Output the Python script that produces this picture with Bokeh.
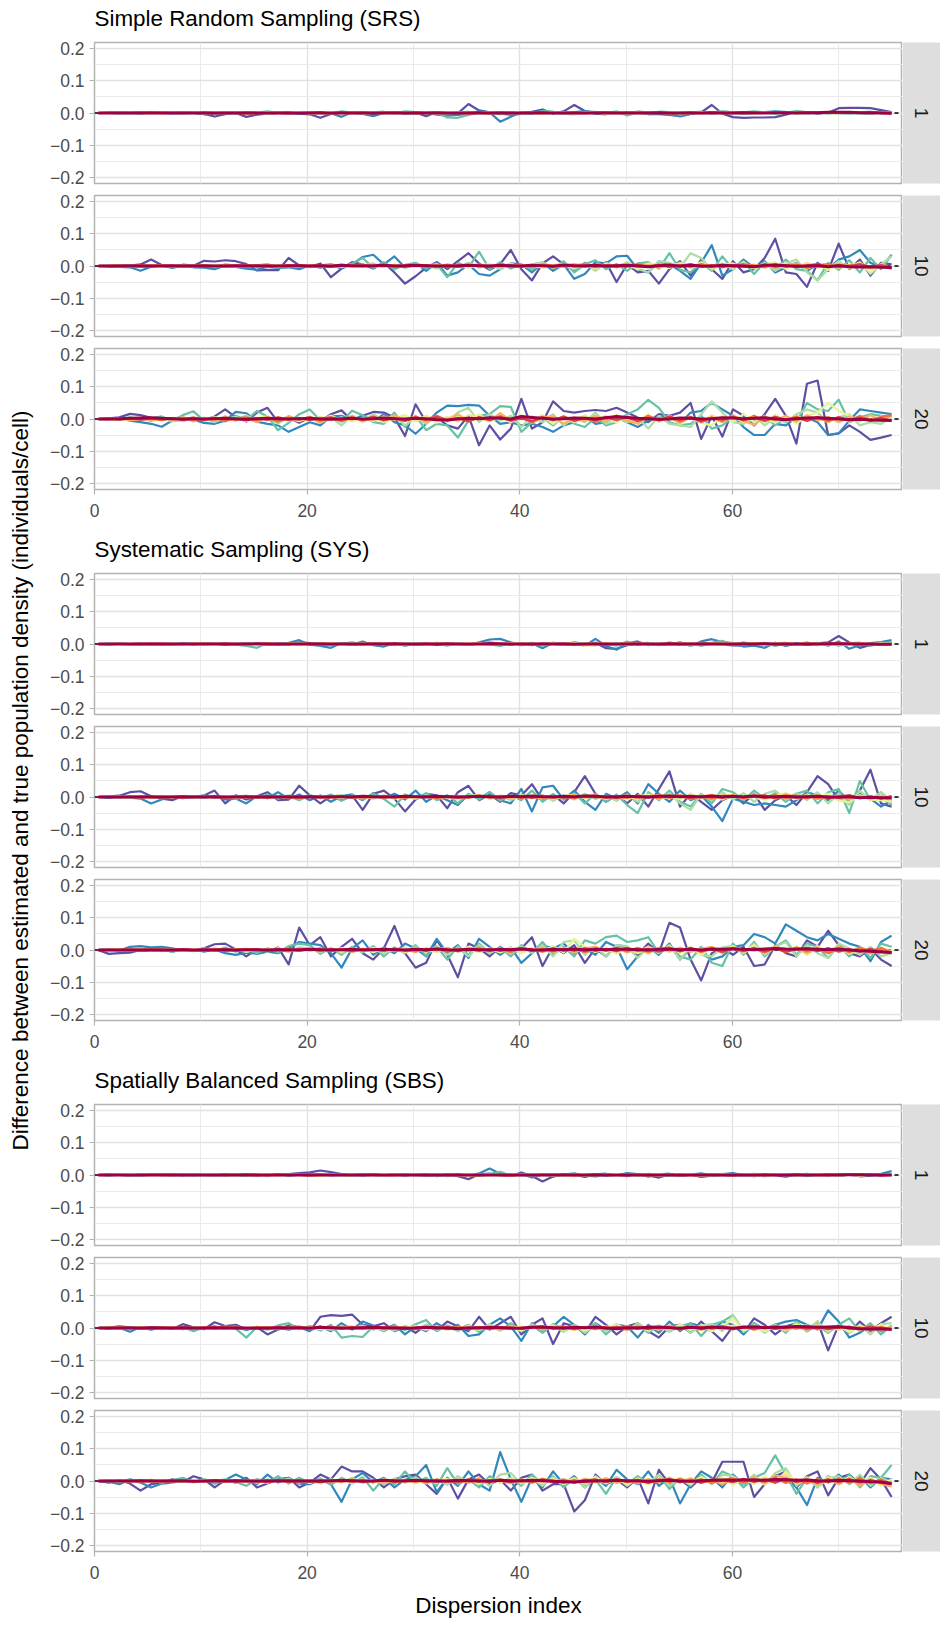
import math
from bokeh.plotting import figure
from bokeh.layouts import column, row
from bokeh.models import FixedTicker, CustomJSTickFormatter, Span, Range1d, Grid, LinearAxis
from bokeh.embed import file_html
from bokeh.resources import INLINE
from bokeh.core.properties import value

# ---------------- data (differences in thousandths of individuals/cell) ----------------
# series order in each panel: purple, blue, teal, light green, yellow, light orange,
# orange, dark orange, red, dark red  (Spectral palette)
COLORS = ["#5E4FA2", "#3288BD", "#66C2A5", "#ABDDA4", "#E6F598",
          "#FEE08B", "#FDAE61", "#F46D43", "#D53E4F", "#9E0142"]
DESIGNS = ["Simple Random Sampling (SRS)", "Systematic Sampling (SYS)",
           "Spatially Balanced Sampling (SBS)"]
SAMPLE_SIZES = ["1", "10", "20"]
X_TICKS = [0, 20, 40, 60]
X_MINOR = [10, 30, 50, 70]
Y_TICKS = [-0.2, -0.1, 0.0, 0.1, 0.2]
Y_MINOR = [-0.15, -0.05, 0.05, 0.15]
X_LIMITS = (0, 76)
Y_LIMITS = (-0.22, 0.22)
DISPERSION = [round(0.35 + 0.995 * i, 3) for i in range(80)]

SRS_1 = [
 [0,1,2,1,1,0,1,2,1,0, -3,-11,-4,0,-12,-5,-2,0,1,-2, -4,-15,-3,1,0,2,-4,0,3,-1, 2,-10,3,-5,-1,28,8,2,-2,-5, -3,4,11,-2,5,25,6,2,0,1, -2,4,1,-3,-6,-9,-3,2,25,-2, -13,-15,-14,-14,-13,-5,4,3,-2,1, 15,16,16,15,9,3],
 [0,0,1,0,-1,1,0,-1,0,1, -4,-2,0,2,-1,0,-3,1,2,-2, 1,3,-1,-12,2,-3,-10,0,3,-3, -2,2,-5,-8,-6,-3,5,2,-27,-12, 3,2,5,1,-3,3,6,-2,-4,2, -3,1,-4,-3,-4,-11,-3,3,1,5, 2,-2,1,3,5,3,2,-2,1,3, -2,0,-1,-3,2,1],
 [0,0,-1,1,0,0,1,0,-1,0, 1,2,0,-2,3,1,5,0,-3,2, -1,0,-2,5,1,-3,2,4,-2,5, 3,-1,1,-14,-15,-6,1,3,-4,2, -2,-3,6,4,-2,-4,1,3,-2,5, -8,2,-1,4,3,-5,1,4,-2,3, -1,2,5,2,-3,1,6,1,3,-2, 1,-2,2,4,-1,0],
 [0,1,0,-1,1,0,0,1,-1,0, 1,0,2,-1,1,2,-2,1,0,3, 1,-2,0,3,-1,1,2,-1,3,0, -2,1,3,-2,2,4,-1,-2,3,1, 0,2,-3,1,3,-1,2,4,-2,1, -3,0,2,1,-2,3,1,-1,2,5, 1,-2,0,3,1,4,-2,1,2,-1, 3,1,-2,2,0,1],
 [0,0,1,0,0,-1,0,1,0,0, -1,1,0,1,-1,0,2,0,-1,1, 0,-2,1,0,2,-1,0,1,-2,1, 0,2,-1,1,0,-2,1,2,0,-1, 1,0,-2,1,2,-1,0,1,-3,0, 2,1,-1,0,2,-1,1,3,0,-1, 1,2,-1,0,3,1,-1,2,1,0, -2,1,0,2,1,0],
 [0,0,0,1,0,0,-1,0,1,0, 0,1,-1,0,1,0,-1,2,0,1, -1,0,1,-1,0,2,1,-1,0,1, 2,0,-1,1,2,0,-1,1,0,2, -1,1,0,2,-1,0,3,1,-1,0, 1,-2,0,1,2,0,-1,1,0,2, 1,0,-1,2,1,0,1,-1,2,0, 1,2,0,-1,1,0],
 [0,0,1,0,0,0,1,0,0,1, 0,-1,0,1,0,1,0,-1,1,0, 1,0,0,1,-1,0,1,1,0,-1, 0,1,2,0,1,-1,0,1,2,0, 1,0,-1,1,0,2,1,0,1,-1, 0,1,0,2,1,0,1,-1,0,1, 2,1,0,1,2,1,0,2,1,0, 1,0,2,1,0,1],
 [0,0,0,0,1,0,0,0,1,0, 0,0,1,0,-1,0,0,1,0,0, 1,0,-1,0,1,0,0,1,0,1, -1,0,1,0,0,1,0,-1,0,1, 0,1,0,0,1,0,-1,1,0,0, 1,0,1,0,-1,0,1,0,1,0, 1,2,1,0,1,0,1,1,0,2, 1,0,1,2,1,0],
 [0,0,0,0,0,1,0,0,0,0, 1,0,0,0,1,0,0,0,-1,0, 0,1,0,0,0,1,0,0,1,0, 0,0,1,0,0,-1,0,0,1,0, 0,1,0,0,0,1,0,1,0,0, 1,0,0,1,0,0,1,0,0,1, 0,1,1,0,0,1,0,1,1,0, 1,1,0,1,0,-1],
 [0,0,0,0,0,0,0,0,0,0, 0,0,0,0,0,0,0,0,0,0, 0,0,0,1,0,0,0,0,0,0, 1,0,0,0,0,0,1,0,0,0, 0,0,1,0,0,0,0,0,1,0, 0,0,0,1,0,0,0,0,1,0, 0,1,0,0,1,1,0,1,1,2, 2,2,1,1,0,-1],
]

SRS_10 = [
 [0,1,3,1,5,20,3,-2,4,1, 16,14,18,15,6,-14,-12,-13,25,2, -3,8,-35,-8,12,5,-8,10,-20,-55, -32,-5,12,-10,15,40,8,-12,6,50, -10,-45,8,30,5,-15,10,-8,12,-50, 5,-20,-15,-55,-10,15,-30,20,-10,-40, 15,-20,-10,25,85,-20,-25,-65,10,-15, 70,-10,20,-30,10,5],
 [0,-1,-3,-4,-15,-2,2,-6,1,-4, -5,-10,2,-3,-8,-12,-2,-6,-4,-10, 2,-5,3,-8,5,28,35,5,30,-5, 8,-15,10,-30,-20,5,-25,-30,-10,8, 5,-20,10,-15,5,-40,-25,12,8,30, 32,-10,-20,15,5,-15,-40,10,65,-30, -10,20,-5,15,-20,-5,10,-15,5,-10, 20,30,50,10,-5,35],
 [0,1,-1,2,-2,3,1,-3,2,-1, 2,-4,5,1,-3,2,6,-5,1,3, -4,2,6,-3,8,25,-6,12,-10,4, 10,-8,5,-35,10,-5,45,-10,12,-8, 5,-12,10,-6,15,-20,5,18,-10,6, -15,8,12,-8,40,-12,-20,10,-15,30, -10,15,-25,12,-8,20,-10,-15,-45,10, -12,18,-20,25,-10,35],
 [0,0,2,-1,1,-2,3,0,-2,1, 2,-1,3,0,-2,1,4,-3,2,-1, 1,3,-2,5,-3,2,8,-4,3,-6, 5,2,-8,6,-3,10,-5,4,-10,8, -3,5,12,-6,3,-10,8,-15,10,-5, 12,-8,-20,15,10,-5,40,25,-12,8, -10,12,-6,10,-15,8,20,-20,-45,-10, 15,-8,12,-25,5,30],
 [0,1,-1,0,2,-1,1,-2,0,1, -1,2,0,-3,1,2,-1,3,-2,0, 2,-1,3,-2,1,4,-3,2,-1,3, -4,2,5,-3,1,-5,3,6,-2,4, -3,5,-6,2,4,-5,3,-8,6,-3, 5,-10,8,4,-6,10,-4,12,-5,8, -6,10,-8,5,12,-10,6,-8,4,-12, 8,-5,10,-20,6,-8],
 [0,0,1,-1,0,1,-1,2,0,-1, 1,-2,0,2,-1,1,3,-2,1,-1, 2,0,-3,1,2,-1,3,-2,4,0, -3,2,1,-4,3,-1,4,-2,2,5, -3,1,-4,3,6,-2,4,-5,3,-2, 5,-3,6,-4,2,7,-5,3,-6,4, 8,-3,5,-6,2,7,-4,10,-5,3, -6,4,8,-5,3,-8],
 [0,1,0,-1,1,0,2,-1,1,0, -2,1,2,-1,0,3,-2,1,2,-1, 0,-3,2,1,-2,3,0,-1,4,-2, 1,3,-3,2,0,5,-2,3,-4,1, 4,-2,3,-5,2,6,-3,1,-4,3, 5,-2,4,-6,3,-3,6,-4,2,5, -3,7,-2,4,-6,3,8,-5,2,-4, 6,-3,5,-8,4,-10],
 [0,0,1,0,-1,1,0,1,-1,0, 1,0,-2,1,2,-1,1,0,2,-1, 1,2,-2,0,1,3,-1,2,-2,1, 3,-2,1,2,-3,2,4,-1,3,-2, 2,-3,4,1,-2,3,5,-2,3,-4, 2,4,-3,5,-2,3,-4,6,-2,4, -3,5,2,-4,6,-3,4,-5,3,6, -4,2,5,-3,4,-6],
 [0,0,0,1,0,-1,1,0,0,1, -1,0,1,0,2,-1,1,0,-1,2, 0,1,-2,1,0,2,-1,3,0,-2, 1,2,-1,3,-2,1,2,-3,2,1, -2,3,1,-2,4,-1,2,-3,3,1, -2,4,-1,3,-3,2,5,-2,3,-4, 2,4,-3,5,-2,3,-4,2,6,-3, 4,-2,5,-3,2,-5],
 [0,0,0,0,1,0,0,1,0,0, 1,0,0,1,0,1,0,0,1,1, 0,1,0,2,1,0,1,2,0,1, 2,1,0,-1,1,2,1,0,2,1, 0,2,1,-1,3,1,0,2,-1,1, 2,0,-2,1,3,-1,2,0,-1,2, 1,-1,-2,2,3,1,-1,0,1,-2, 1,-2,-3,-2,-4,-5],
]

SRS_20 = [
 [0,2,5,16,12,4,-2,3,-5,2, -3,8,30,6,-8,20,35,-10,4,-12, 5,-8,15,27,-5,10,22,20,5,-53, 46,-10,5,-20,-30,10,-82,-20,-64,-30, 63,-30,-10,55,25,20,25,28,25,35, 20,5,-10,15,10,20,50,-62,10,-55, 30,10,-20,15,63,10,-77,110,120,-50, -45,-20,-40,-65,-58,-50],
 [0,-2,3,-5,-10,-15,-24,-5,-3,-2, -12,-15,-5,22,18,-8,-15,-20,-40,-25, -10,-20,8,10,-5,12,-8,15,-10,-20, -46,-15,20,42,40,44,42,10,-15,-10, -20,-15,-25,-40,-20,-10,10,-15,-10,5, -10,-25,-5,5,10,-15,20,25,50,30, 10,-25,-50,-50,-15,-20,5,5,-10,-50, -45,-5,30,25,20,15],
 [0,3,-2,5,-3,2,8,-5,12,24, -5,3,-8,10,-3,25,8,-35,-12,15, 30,-5,10,-8,26,12,-10,-15,20,-25, 10,-35,-15,-20,-58,-5,10,15,40,38, -40,-10,5,-20,10,-15,-25,5,-20,-10, 15,30,60,35,-10,-20,-15,10,-30,-20, 5,-10,-5,10,-20,5,-10,50,30,25, 60,-10,5,15,10,5],
 [0,-2,1,-4,3,-6,2,-8,5,-3, 4,-10,8,-5,12,-8,6,-15,10,-5, 8,-12,6,-20,10,-8,15,-5,12,-20, 5,-15,10,-8,20,35,-10,15,-5,10, -25,8,-10,15,-20,5,-10,20,-15,8, -10,5,-30,10,-15,-20,-25,15,55,20, -10,-15,10,-20,5,-12,15,30,20,-10, 5,15,-20,-10,-15,5],
 [0,2,-1,3,-2,4,-3,2,-5,3, -4,6,-2,5,-6,3,8,-4,2,-7, 5,-3,10,-5,4,-8,6,-10,3,12, -5,8,-12,6,10,-5,15,-8,5,-10, 12,-6,8,-15,10,-5,12,-8,6,-12, 10,-5,15,-10,8,-15,5,-12,-20,10, -8,15,-10,5,-12,8,-15,10,20,50, 25,10,-8,12,-5,8],
 [0,-1,2,-3,1,3,-2,4,-3,2, -4,5,-2,3,-6,4,-3,6,-5,2, -4,7,-3,5,-8,4,-6,8,-3,5, -7,10,-4,6,-8,12,5,-6,8,-10, 6,-5,12,-8,4,-10,8,-6,10,-4, 7,-12,5,-8,10,-6,8,-10,12,-5, 8,-10,6,-8,12,-6,10,-4,8,-10, 6,-8,10,-5,8,-6],
 [0,-2,3,-4,2,-5,4,-3,6,-8, 4,-6,8,-4,3,-10,6,-5,8,-3, 5,-12,4,-6,10,-8,3,-5,12,-4, 8,-10,6,-3,15,-8,5,-6,18,-5, 10,-12,5,8,-15,4,-6,10,-8,12, -5,-15,8,-4,10,-12,6,-8,5,-10, 12,-6,-18,8,-5,10,-8,12,-4,6, -10,8,-5,12,-6,10],
 [0,1,-2,3,-1,2,-4,3,-2,5, -3,4,-6,2,5,-4,3,-8,4,-2, 6,-5,3,-7,5,-3,8,-4,2,-6, 7,-3,10,-5,4,-8,6,-3,9,-6, 4,-10,7,-4,8,-6,3,-9,5,-4, 8,-7,10,-5,3,-8,6,-10,4,-6, 8,-4,10,-7,5,-3,8,-6,4,-8, 6,-5,9,-4,6,12],
 [0,1,-1,2,-2,3,-1,2,-3,1, -2,4,-1,3,-4,2,-3,5,-2,3, -4,2,5,-3,4,-2,6,-4,3,-5, 4,-2,6,-4,3,-7,5,-3,6,-4, 2,-6,5,-3,7,-5,3,-4,6,-2, 5,-6,3,-4,8,-3,5,-6,4,-2, 6,-4,3,-5,7,-3,4,-5,6,-3, 5,-2,4,-6,3,-5],
 [0,0,1,2,3,4,2,1,0,1, 0,1,2,0,-1,1,2,1,0,1, 2,0,-1,1,2,0,1,3,1,0, 2,1,-2,-3,0,2,1,4,2,0, 8,5,2,0,1,3,2,0,4,8, 5,2,1,-1,0,3,2,0,1,4, 3,1,2,4,0,-2,1,3,4,2, 0,-2,-1,-3,-4,-5],
]

SYS_1 = [
 [0,0,1,0,1,0,-1,0,1,0, 0,1,-1,0,2,-1,0,1,-2,5, 3,-1,0,2,-3,1,0,2,-2,1, 0,1,-3,2,0,-1,2,4,1,-2, 3,-4,2,1,-3,2,0,4,-13,-15, -4,2,3,-2,-1,2,-1,2,3,-1, -4,-5,2,3,-2,-3,1,-2,2,5, 25,5,-12,-3,1,3],
 [0,-1,1,0,-2,1,0,-1,2,-1, 1,0,-2,1,-3,2,-1,0,4,12, -2,-6,-12,3,-2,8,-4,-8,3,-5, 2,-3,4,-1,3,-2,5,14,16,5, -4,2,-13,4,-2,3,-6,16,-6,-18, 2,8,-4,3,-2,5,-6,8,15,6, 3,-8,-5,-12,4,-6,2,-3,4,-5, 8,-15,-4,3,6,12],
 [0,1,0,-1,1,-2,0,1,-1,2, -1,0,1,-2,-6,-12,3,-2,1,4, -1,2,-3,1,5,-2,0,3,-4,2, 1,-3,2,-5,3,-2,4,-1,-6,3, -2,4,-5,2,-3,6,-2,-4,3,-5, 8,-3,2,-4,5,-2,3,-6,4,10, -3,5,-2,4,-6,2,-3,5,-4,3, -5,2,4,-6,3,5],
 [0,0,1,-1,0,1,-1,0,1,0, -1,1,0,-2,1,0,2,-1,1,-2, 0,2,-1,1,-2,2,0,-1,2,-3, 1,0,2,-2,1,-3,2,0,-1,3, -2,1,-3,2,0,-4,3,1,-2,2, -3,1,4,-2,0,3,-5,2,1,-3, 4,-1,2,-3,1,4,-2,0,3,-2, 1,-3,2,-1,4,0],
 [0,0,0,1,-1,0,1,0,-1,0, 1,-1,0,1,0,-2,1,0,-1,1, 0,-1,2,0,-1,1,0,2,-1,0, 1,-2,0,1,2,-1,0,-2,1,0, 2,-1,0,1,-3,0,-6,-2,1,-1, 2,0,-1,3,-2,1,0,-1,2,-2, 1,0,3,-1,-2,1,0,2,-1,1, -2,3,0,-1,1,0],
 [0,0,1,0,0,-1,0,1,0,0, -1,0,1,0,-1,1,0,0,1,-1, 0,1,0,-1,1,0,-1,1,0,2, -1,0,1,-1,0,1,2,0,-1,1, 0,-2,1,0,-1,2,-2,0,1,-1, 0,2,-1,0,1,-2,0,1,-1,2, 0,-1,1,0,2,-1,0,1,-2,0, 1,-1,2,0,-1,1],
 [0,0,0,0,1,0,0,-1,0,1, 0,0,1,0,-1,0,1,0,0,1, -1,0,1,0,0,-1,1,0,1,0, -1,0,1,0,-1,0,1,0,-1,1, 0,1,-1,0,1,0,-2,0,1,0, -1,1,0,-1,1,0,2,-1,0,1, 0,-1,1,0,-1,1,0,2,0,-1, 1,0,-1,1,0,-2],
 [0,0,0,0,0,1,0,0,0,0, 1,0,0,-1,0,0,1,0,0,0, 1,0,0,0,-1,0,0,1,0,0, 0,1,0,0,0,-1,0,0,1,0, 0,0,1,0,-1,0,0,1,0,0, 1,0,0,-1,0,1,0,0,1,0, -1,0,1,0,0,1,0,-1,0,1, 0,0,1,0,-1,0],
 [0,0,0,0,0,0,1,0,0,0, 0,0,1,0,0,0,0,-1,0,0, 0,1,0,0,0,0,1,0,0,0, -1,0,0,1,0,0,0,0,1,0, 0,-1,0,0,1,0,0,0,-1,0, 0,1,0,0,0,-1,0,1,0,0, 0,1,0,0,-1,0,0,1,0,0, 1,0,0,-1,0,0],
 [0,0,0,0,0,0,0,0,0,0, 0,0,0,0,0,1,0,0,0,0, 0,0,0,0,0,0,0,0,1,0, 0,0,0,0,0,0,0,1,0,0, 0,0,0,0,0,-1,0,0,0,0, 0,0,0,0,1,0,0,0,0,0, 0,0,0,1,0,0,0,0,0,1, 1,1,0,0,-1,-1],
]

SYS_10 = [
 [0,2,4,15,18,2,-5,-10,3,-2, 5,20,-20,5,-8,2,15,-10,-8,35, 5,-20,3,-10,5,-40,10,20,-5,-45, -8,10,5,-35,15,35,-10,8,-15,12, 5,40,-10,8,-20,15,65,10,-15,5, -20,10,-30,25,80,-30,10,-15,-40,-10, 5,-20,10,-40,-10,5,-25,15,65,40, -10,-15,20,85,-20,-30],
 [0,-3,1,-2,-5,-20,-8,2,-4,1, -3,4,-8,-5,-20,3,-4,15,-6,8, -10,5,-15,3,8,-10,12,-5,10,-8, 20,-15,5,-10,-25,8,-5,15,-10,-20, 25,-45,30,35,-8,20,-15,-40,10,-5, 15,-20,40,10,-15,20,-10,5,-30,-75, -5,-15,-25,-20,-25,-30,-10,15,5,-10, 20,-15,10,-5,-30,-10],
 [0,1,-2,3,-1,2,-4,1,3,-2, 5,-3,2,-6,4,-2,8,-5,3,-10, 6,-4,8,-12,5,-8,10,-6,-30,8, -5,12,-10,6,-20,10,-8,15,-12,6, -10,20,-15,8,-6,12,-20,10,-15,8, -25,-50,15,-10,20,-15,-30,10,-20,25, 15,-10,20,-5,12,-15,10,20,-20,15, 25,-50,50,-10,15,-25],
 [0,0,1,-1,2,-1,0,2,-2,1, -1,3,-2,1,4,-3,2,-1,5,-2, 3,-4,2,6,-3,1,-5,4,-2,3, -6,5,-3,2,-8,4,6,-5,3,-10, 8,-4,6,-12,5,-8,10,-6,4,-12, 8,-15,10,-5,12,-20,-40,8,-10,15, -8,12,-15,10,20,-8,12,-10,15,-20, 10,-25,20,-10,15,-12],
 [0,1,0,-1,1,-2,1,0,2,-1, 0,2,-3,1,-1,3,-2,1,2,-4, 3,-1,2,-3,4,-2,1,3,-5,2, -3,4,-1,2,-6,3,5,-2,4,-3, 6,-4,2,-5,3,7,-3,5,-6,2, -8,4,6,-5,3,-7,10,-4,5,-8, 6,-3,8,-10,4,12,-6,8,-5,10, -12,-15,6,-8,-10,-15],
 [0,0,1,0,-1,1,0,-1,2,0, -1,1,2,-2,0,1,-1,3,-1,0, 2,-2,1,3,-1,0,2,-3,1,4, -2,1,3,-2,4,-1,2,-3,5,0, -2,4,1,-3,3,5,-2,1,-4,3, 2,-5,4,1,-3,6,-2,3,-5,4, 7,-3,2,-6,4,8,-2,5,-4,3, -6,5,2,-8,4,-10],
 [0,1,-1,0,2,-1,1,0,-2,1, 2,-1,0,3,-2,1,-1,2,0,-3, 1,2,-2,0,3,-1,-2,4,1,-2, 3,0,-4,2,3,-1,5,-2,1,-3, 4,2,-5,3,-1,6,-2,4,-3,2, 5,-4,3,6,-2,4,-5,2,7,-3, 5,-6,3,4,-5,8,2,-4,6,-3, 5,-8,4,-6,3,-5],
 [0,0,0,1,-1,0,1,0,-1,1, 0,2,-1,0,1,-2,1,2,-1,0, 2,-1,1,3,-2,0,2,-1,3,-2, 1,2,-3,2,1,-2,4,-1,2,3, -3,1,4,-2,2,-4,3,5,-2,1, -3,4,2,-4,3,5,-3,2,-5,4, 3,-2,5,-3,6,-4,2,4,-5,3, -2,5,-4,2,-6,3],
 [0,0,0,0,1,0,-1,0,1,0, 1,0,-1,1,0,2,-1,0,1,-1, 2,0,-1,1,2,-1,0,2,-2,1, 0,3,-1,1,-2,2,0,3,-2,1, 2,-3,1,3,-2,0,4,-1,2,-3, 1,3,-2,4,-1,2,-4,3,1,-3, 4,-2,3,5,-3,1,4,-2,3,-4, 2,5,-3,1,-4,2],
 [0,0,0,0,0,1,0,0,1,0, 0,1,0,0,1,0,1,0,1,0, 1,0,1,1,0,2,1,0,1,2, 1,0,2,1,0,1,2,1,0,2, 1,3,1,0,2,1,3,2,0,1, 2,1,0,2,3,1,2,0,3,1, 2,1,3,0,1,2,-1,1,2,0, -1,1,-2,-1,-2,-3],
]

SYS_20 = [
 [0,-12,-10,-8,0,-3,2,-5,3,-2, 5,18,20,2,-20,3,-5,8,-45,70, 15,40,-20,10,35,-10,-30,5,75,-10, -55,-40,30,-15,-85,20,5,-20,10,-15, 5,40,-50,10,-10,15,-40,5,-20,15, 10,-15,20,-10,85,70,-30,-95,-10,5, -15,10,-50,-45,15,-10,-20,30,10,60, 15,-10,-20,5,-30,-50],
 [0,3,-2,10,12,8,10,5,-2,3, -5,2,-10,-15,-8,-12,-5,-10,5,25, 20,15,-10,-55,5,30,-15,8,-10,20, 5,-20,35,-10,15,-25,35,10,-15,8, -40,-10,15,5,20,-10,5,-15,25,10, -60,-20,10,-15,20,-30,5,-10,-30,-20, 10,15,50,40,20,80,60,40,30,50, 35,20,10,-35,25,45],
 [0,2,-3,1,5,-2,4,-6,3,-4, 6,-3,8,-5,2,-10,5,-8,12,20, 15,-12,6,-15,10,-8,12,-20,8,-10, 15,-18,10,-30,12,-15,20,-10,8,-20, 15,-10,25,-15,10,-20,30,20,40,45, 25,30,40,-10,15,-20,-30,10,-40,-50, 20,-15,25,-20,10,30,-15,20,10,-25, 15,-20,10,-25,20,10],
 [0,-1,2,-3,1,-2,3,-4,2,1, -3,5,-2,4,-6,3,-5,6,-4,8, 5,-8,6,-10,4,-6,8,-12,5,-8, 10,-6,12,-15,8,-20,15,-10,6,-12, 10,-8,15,-20,25,30,-15,10,-20,15, 12,-25,8,-10,15,-30,10,-15,-20,8, 12,-10,20,-15,10,25,-20,15,-10,-25, 20,5,-15,10,-20,-10],
 [0,1,-2,2,-1,3,-2,1,-3,2, -1,4,-3,2,-5,3,-2,4,-6,3, -4,5,-2,6,-5,3,-7,4,-3,8, -5,3,-8,6,-4,10,-6,4,-8,5, -10,6,-4,12,-8,35,10,-6,8,-12, 6,-10,8,-5,12,-8,10,-15,6,-10, 12,-8,15,-10,8,-6,12,-15,10,-5, 8,-12,6,-10,8,-12],
 [0,0,1,-1,2,-2,1,0,-2,3, -1,2,-3,1,4,-2,3,-1,-4,2, 5,-3,1,-5,4,-2,6,-3,2,-6, 4,-5,3,7,-4,2,-6,5,-3,8, -5,4,-7,3,6,-4,8,-5,3,-9, 5,-6,10,-4,7,-8,5,-10,6,-4, 8,-7,5,-9,10,-5,6,-8,12,-6, 4,-10,8,-5,6,-8],
 [0,1,-1,2,-2,1,3,-2,1,-3, 2,-1,4,-3,2,-4,3,1,-5,4, -2,5,-3,2,-6,4,-1,5,-4,3, -6,5,-2,6,-5,3,8,-4,2,-7, 6,-3,8,-6,4,-8,5,10,-4,6, -8,4,-10,7,-5,8,-6,4,10,-8, 5,-6,8,-4,12,-7,5,-10,6,-8, 10,-5,7,-12,6,-4],
 [0,0,1,-1,1,0,-2,1,2,-1, 0,2,-2,1,3,-1,-2,3,1,-3, 2,4,-2,1,-4,3,2,-3,5,-1, -4,3,2,-5,4,-2,5,-3,3,-6, 4,2,-5,6,-3,4,-7,5,-2,6, -4,7,-5,3,8,-4,6,-6,4,-8, 7,-3,5,-8,6,-5,8,-4,6,-10, 5,-7,8,-4,6,-10],
 [0,0,0,1,-1,0,1,-1,2,0, -1,1,2,-1,0,2,-2,1,3,-1, 2,-2,3,0,-3,2,1,-2,4,-1, 2,-3,4,1,-3,3,-2,4,-3,2, 5,-3,2,-4,4,-2,5,-3,3,-4, 6,-2,4,-5,3,-4,6,-3,5,-5, 4,-3,6,-4,5,-6,3,5,-4,6, -5,3,-6,4,-5,-8],
 [0,0,0,0,0,1,0,0,1,0, 1,0,1,0,1,1,0,1,0,1, 2,1,0,1,2,0,1,2,1,0, 2,1,3,1,0,2,1,0,2,1, 3,1,0,2,1,3,0,2,1,3, 2,1,0,2,3,1,2,0,3,2, 4,2,1,3,5,3,2,4,2,1, 3,0,-2,-4,-6,-8],
]

SBS_1 = [
 [0,1,0,-1,1,0,1,0,-1,1, 0,-1,1,0,2,-2,1,0,3,6, 8,14,9,3,-1,2,0,-2,3,-1, 1,-3,-2,1,-4,-13,2,4,-1,-3, 8,-3,-20,-5,3,1,-6,2,-2,0, -4,3,-1,-8,2,-3,1,-6,-2,0, -3,1,-4,2,-1,-5,1,-3,0,2, -2,1,-4,-2,1,0],
 [0,-1,1,0,-2,1,0,-1,2,0, -1,1,-2,0,1,2,-1,3,-2,1, 0,2,-1,1,-3,2,0,-2,1,3, -1,2,-4,1,3,-3,5,20,4,-2, 3,-8,2,-4,1,5,-3,2,4,-2, 6,3,-5,2,4,-3,1,5,-2,3, 6,-1,2,-4,3,1,-2,4,-1,2, -3,1,3,-2,4,12],
 [0,1,0,-1,0,2,-1,1,0,-2, 1,0,2,-1,-3,1,0,2,-1,1, -2,3,0,-1,2,-3,1,0,2,-2, 3,-1,1,-4,2,0,-3,4,10,-2, 2,-3,1,3,-2,4,-1,-5,2,-3, 3,-2,4,-1,-3,2,0,3,-4,1, 2,-3,4,-1,2,-2,3,-4,1,2, -1,3,-2,1,-3,2],
 [0,0,1,0,-1,0,1,-1,0,1, 0,-1,1,2,-1,0,1,-2,1,0, 2,-1,0,1,-2,1,3,-1,0,2, -1,1,-2,2,0,-3,1,2,-1,3, -2,1,0,-3,2,1,-2,3,0,-1, 2,-2,1,3,-1,0,2,-3,1,0, 3,-1,2,-2,1,0,-3,2,1,-1, 2,0,-2,1,3,-1],
 [0,0,0,1,0,-1,0,1,0,0, -1,1,0,-1,1,0,2,-1,0,1, -1,0,2,0,-1,1,0,-2,1,0, 2,-1,0,1,-1,2,0,-1,1,-2, 0,1,2,-1,0,-2,1,0,2,-1, 1,0,-1,2,0,-2,1,0,-1,2, 0,1,-2,0,1,2,-1,0,1,-1, 0,2,-1,1,0,-2],
 [0,0,1,0,0,0,-1,0,1,0, 0,1,-1,0,0,1,0,-1,1,0, 0,-1,1,0,1,0,-1,0,1,0, -1,1,0,2,0,-1,0,1,-1,0, 2,0,-1,1,0,-1,2,0,1,-1, 0,1,0,-2,1,0,1,-1,0,2, -1,0,1,0,-1,2,0,1,-1,0, 1,0,-1,2,0,1],
 [0,0,0,0,1,0,0,-1,0,0, 1,0,0,1,0,-1,0,0,1,0, -1,0,1,0,0,1,0,-1,0,1, 0,0,1,-1,0,0,1,0,0,-1, 1,0,0,1,0,-1,0,1,0,0, -1,1,0,0,1,0,-1,0,1,0, 0,1,0,-1,0,1,0,0,1,0, -1,0,1,0,0,1],
 [0,0,0,0,0,0,1,0,0,0, 0,0,1,0,0,0,-1,0,0,0, 1,0,0,0,0,1,0,0,-1,0, 0,1,0,0,0,0,-1,0,1,0, 0,0,1,0,0,-1,0,0,1,0, 0,0,-1,0,1,0,0,0,1,0, -1,0,0,1,0,0,1,0,0,-1, 0,1,0,0,1,0],
 [0,0,0,0,0,0,0,1,0,0, 0,0,0,0,1,0,0,0,0,0, -1,0,0,0,0,0,1,0,0,0, 0,0,0,1,0,0,0,0,0,-1, 0,0,0,0,1,0,0,0,0,0, 1,0,0,0,0,-1,0,0,0,0, 1,0,0,0,0,0,1,0,0,0, 0,1,0,0,-1,0],
 [0,0,0,0,0,0,0,0,0,0, 0,0,0,0,0,0,0,0,0,0, 0,0,0,0,0,0,0,0,0,0, 0,0,0,0,0,0,0,0,0,0, 0,0,0,0,0,0,0,1,0,0, 0,0,0,0,0,0,0,0,0,0, 0,0,0,0,0,0,0,0,0,0, 1,1,1,1,0,0],
]

SBS_10 = [
 [0,1,5,2,-2,3,1,-3,12,2, -4,18,6,10,-5,3,-20,-5,8,3, -10,35,40,38,42,10,5,15,-10,5, -15,10,-8,20,5,-10,35,-5,15,35, -20,10,30,-50,15,5,-15,35,10,-20, 5,15,-10,-30,5,10,-15,20,-10,-40, 5,-15,30,10,-20,5,15,-10,20,-70, 10,-15,20,-10,15,35],
 [0,-2,1,-12,3,-5,2,0,-4,3, -2,5,-3,2,-6,4,-2,1,-5,3, -8,5,-10,15,-5,20,8,-5,10,-20, 5,-10,15,-5,10,-25,-20,10,30,5, -40,15,-10,5,35,10,-20,15,-5,10, 5,-30,10,-15,20,-10,15,5,-10,20, 10,-20,15,-5,10,20,25,10,-5,55, 20,-30,-15,10,-10,5],
 [0,1,-2,3,-1,2,-4,1,3,-10, 2,-3,5,-2,-30,3,-5,8,15,-4, 6,-8,10,-30,-25,-28,5,-10,8,-6, 12,25,-10,8,-5,10,-12,5,-8,15, -10,8,-15,12,-5,10,-8,15,-20,10, -5,12,-15,8,-10,5,15,-25,10,20, 40,-10,15,-8,12,-15,20,-10,8,-15, 10,30,-10,15,-20,8],
 [0,0,1,-1,2,-2,1,-1,3,-2, 1,-3,2,4,-2,3,-5,2,-3,6, -4,3,-6,5,-2,8,-5,3,-8,6, -4,10,-6,4,-10,8,-5,12,-8,6, -10,12,-6,8,-12,10,-15,8,-10,12, -8,15,-10,6,-12,10,-15,8,12,-10, 40,-12,10,-15,8,-10,15,-8,20,-12, 10,-15,8,-20,12,15],
 [0,1,-1,0,2,-1,0,2,-2,1, -1,3,-2,1,-3,2,0,-4,3,-1, 2,-4,3,-2,5,-3,1,-5,4,-2, 6,-3,2,-6,4,-1,-5,6,-3,2, -7,4,-2,8,-5,3,-8,6,-4,10, -6,3,-8,7,-4,10,-5,8,-10,6, 30,-8,5,-10,8,-6,12,-4,10,-8, 6,-12,8,-5,10,-8],
 [0,0,1,-1,0,1,-1,2,-1,0, 1,-2,2,0,-1,3,-2,1,0,-3, 2,1,-3,2,4,-2,1,-4,3,-1, 2,-5,3,1,-4,5,-2,3,-5,2, 4,-3,6,-2,3,-6,4,-1,5,-4, 6,-3,2,-5,7,-3,4,-6,5,-2, 8,-4,6,-3,5,-7,4,8,-5,3, -6,5,-4,7,-3,2],
 [0,1,0,-1,1,-1,2,0,-2,1, 0,2,-1,1,-3,2,0,3,-2,1, -2,3,-1,2,4,-3,1,-2,3,0, -4,2,5,-3,1,-4,3,2,-5,4, -2,3,6,-4,2,-5,3,7,-3,1, -6,4,2,-5,8,-3,5,-6,3,4, -5,7,-4,2,6,-5,3,-6,8,-4, 5,2,-6,4,-8,5],
 [0,0,1,0,-1,1,0,1,-1,0, 2,-1,1,0,-2,1,2,-1,0,2, -2,1,3,-1,2,-2,0,3,-1,2, -3,1,2,-3,4,-1,2,-4,3,1, -3,4,-2,3,5,-3,2,-4,3,-2, 5,-3,4,-1,3,-5,2,4,-3,5, -2,3,-5,4,-3,6,-2,5,-4,3, 6,-3,2,-5,4,-6],
 [0,0,0,1,0,-1,1,0,1,-1, 0,1,2,-1,0,1,-2,1,2,0, -1,2,0,-2,3,1,-1,2,0,-3, 2,1,-2,3,0,-1,3,-2,2,1, -3,2,4,-1,2,-3,1,3,-2,4, -1,2,-4,3,1,-2,4,-3,2,5, -2,3,-1,4,-3,2,5,-2,3,-4, 2,4,-3,5,-2,-6],
 [0,0,0,0,0,1,0,0,1,0, 0,1,0,1,0,-1,0,1,0,1, 0,2,1,0,-1,1,2,0,1,-1, 0,2,1,0,-2,1,0,2,1,-1, 0,2,3,1,-1,2,1,3,0,-2, 1,0,2,3,1,-1,2,0,3,1, -1,2,4,1,3,2,5,4,2,3, 4,1,-2,-3,-2,-4],
]

SBS_20 = [
 [0,-5,3,-8,-30,-10,-5,5,-3,15, 5,-20,3,-5,10,-20,-8,5,10,-20, -5,20,5,45,30,30,10,-20,5,15, 20,-10,-40,10,-55,5,20,-10,5,-30, 10,20,-30,-10,-10,-95,-60,20,-10,5, -20,10,-70,35,-10,5,-20,10,-5,60, 60,60,-50,-10,15,30,-20,15,30,-45, 10,20,-10,40,5,-50],
 [0,-2,-10,5,-5,-20,-8,-5,2,-3, 5,-8,3,20,5,-10,20,-5,10,-8, -10,5,-10,-65,5,25,-5,10,-20,5, 15,50,-35,10,-15,30,-10,-30,90,5, -65,10,-20,30,-10,15,-20,10,-15,35, 5,-10,30,-15,10,-70,-10,30,10,-20, 20,-10,15,-10,20,5,-20,-75,10,-5, 20,-10,15,-20,10,5],
 [0,2,-3,5,-2,4,-6,3,10,-4, 6,-8,5,-3,-15,6,-5,15,-8,10, -6,8,-12,10,-8,12,-30,8,-10,30, -5,10,-15,40,-10,5,-20,15,-5,10, -15,20,-10,15,-20,10,-15,5,-40,12, -10,15,-8,20,-25,10,-15,20,-10,30, 15,-20,10,25,80,20,-40,10,-20,15, -10,20,-20,15,10,50],
 [0,-1,2,-3,4,-2,3,-5,2,-4, 5,-3,6,-4,3,-6,5,-2,8,-5, 3,-8,6,-4,10,-6,4,-10,8,-5, 12,-8,5,-12,15,-6,10,-15,20,25, -10,8,-15,12,-6,10,-20,15,-8,12, -15,10,-6,20,-15,8,-12,15,-10,20, 15,-8,20,-12,25,40,-15,12,-20,8, 15,-10,20,-15,10,-5],
 [0,1,-1,2,-3,1,-2,3,-1,2, -4,3,-2,4,-3,2,-5,4,-2,3, -6,4,-3,5,-7,3,-4,6,-3,5, -8,4,-6,7,-4,5,-9,6,-4,8, -6,10,-5,7,-10,6,-8,12,-6,8, -10,7,-12,8,-5,10,-8,12,-6,10, -12,8,-10,15,-8,30,-6,10,-12,8, -10,12,-8,10,-15,6],
 [0,0,1,-1,2,-1,0,2,-2,1, -1,3,-2,0,2,-3,1,3,-2,4, -1,2,-4,3,-2,5,-3,1,4,-4, 2,-5,3,5,-3,2,-6,4,-2,6, -4,3,-7,5,-3,8,-5,2,-6,7, -4,6,-8,3,7,-5,10,-6,4,-8, 12,-5,8,-10,6,20,-8,5,-10,12, -6,8,-12,5,-8,-15],
 [0,1,-1,0,2,-2,1,-1,3,-2, 1,2,-3,1,-2,4,-1,2,-4,3, 1,-3,4,-2,5,-3,2,-5,4,-1, 3,-6,5,-2,4,-5,6,-3,2,-7, 5,-4,8,-3,6,-5,7,-4,9,-6, 4,-8,6,-5,10,-4,8,-6,5,-10, 8,-5,12,-7,18,10,-6,8,-12,6, -10,8,-15,6,-8,-18],
 [0,0,1,-1,1,0,-2,1,2,-1, 0,2,-2,3,-1,1,-3,2,1,-2, 3,-1,2,-3,4,-2,1,3,-4,2, -3,4,-1,3,-5,2,4,-3,5,-2, 3,-5,4,2,-6,3,-4,5,-3,6, -4,3,-6,5,-4,7,-3,5,-6,4, 8,-5,6,-4,10,-6,5,-8,6,-4, 7,-5,8,-6,5,-10],
 [0,0,0,1,-1,1,0,-1,2,0, -1,1,2,-2,1,0,-2,3,-1,2, 0,-3,2,1,-2,3,-1,4,-2,1, 3,-2,4,-1,-3,5,-2,3,1,-4, 4,-2,5,-3,2,-5,3,4,-3,5, -2,4,-5,3,6,-4,2,-5,4,3, -4,6,-3,5,-5,7,-3,4,-6,5, -4,6,-5,3,-6,-10],
 [0,0,0,0,1,0,0,1,0,-1, 0,1,0,1,0,-1,1,0,1,0, -1,1,0,2,1,-1,0,2,1,0, 2,1,-1,0,2,1,0,-1,2,1, 0,2,1,-1,-2,-3,-1,0,1,2, 1,0,-1,1,2,0,-1,1,2,3, 2,4,3,2,5,4,2,3,1,0, 2,1,0,-2,-3,-8],
]

GROUPS = [(DESIGNS[0], [SRS_1, SRS_10, SRS_20]),
          (DESIGNS[1], [SYS_1, SYS_10, SYS_20]),
          (DESIGNS[2], [SBS_1, SBS_10, SBS_20])]

# ---------------- layout constants (pixels) ----------------
FONT = "Liberation Sans"
FRAME_W, FRAME_H = 808, 141
LEFT_W = 54          # axis area left of each panel
YLAB_W = 40          # column holding the y-axis title
STRIP_W = 38
TITLE_H = 36
PAD = 6              # white space above / below each panel frame
BOTTOM_AXIS = 42
BOTTOM_LAST = 72
TOTAL_H = 3 * TITLE_H + 9 * (FRAME_H + PAD) + 6 * PAD + 2 * BOTTOM_AXIS + BOTTOM_LAST

yfmt_code = "var s = tick.toFixed(1); if (s === '-0.0') { s = '0.0'; } return s.replace('-', '\u2212');"


def hide_default_grids(p):
    for g in p.grid:
        g.visible = False


def panel_fig(series, bottom_border, with_xaxis, xlabel=None):
    p = figure(frame_width=FRAME_W, frame_height=FRAME_H,
               min_border_left=LEFT_W, min_border_right=0, min_border_top=PAD,
               min_border_bottom=bottom_border,
               x_range=Range1d(*X_LIMITS), y_range=Range1d(*Y_LIMITS),
               x_axis_location=None, y_axis_location=None,
               toolbar_location=None, output_backend="svg",
               background_fill_color="white", border_fill_color="white",
               outline_line_color="#B3B3B3", outline_line_width=1.5)
    hide_default_grids(p)
    p.add_layout(Grid(dimension=0, ticker=FixedTicker(ticks=X_TICKS, minor_ticks=X_MINOR),
                      grid_line_color="#E2E2E2", grid_line_width=1.4,
                      minor_grid_line_color="#EAEAEA", minor_grid_line_width=1.0))
    p.add_layout(Grid(dimension=1, ticker=FixedTicker(ticks=Y_TICKS, minor_ticks=Y_MINOR),
                      grid_line_color="#E2E2E2", grid_line_width=1.4,
                      minor_grid_line_color="#EAEAEA", minor_grid_line_width=1.0))
    yax = LinearAxis(ticker=FixedTicker(ticks=Y_TICKS),
                     formatter=CustomJSTickFormatter(code=yfmt_code),
                     axis_line_color=None, major_tick_line_color="#B3B3B3",
                     major_tick_line_width=1.2, major_tick_in=0, major_tick_out=5,
                     minor_tick_line_color=None, major_label_standoff=5,
                     major_label_text_font=FONT, major_label_text_font_size="17.5px",
                     major_label_text_color="#4D4D4D")
    p.add_layout(yax, "left")
    if with_xaxis:
        xax = LinearAxis(ticker=FixedTicker(ticks=X_TICKS),
                         formatter=CustomJSTickFormatter(code="return tick.toFixed(0);"),
                         axis_line_color=None, major_tick_line_color="#B3B3B3",
                         major_tick_line_width=1.2, major_tick_in=0, major_tick_out=5,
                         minor_tick_line_color=None, major_label_standoff=9,
                         major_label_text_font=FONT, major_label_text_font_size="17.5px",
                         major_label_text_color="#4D4D4D")
        if xlabel:
            xax.axis_label = xlabel
            xax.axis_label_text_font = FONT
            xax.axis_label_text_font_size = "22.5px"
            xax.axis_label_text_font_style = "normal"
            xax.axis_label_text_color = "#000000"
            xax.axis_label_standoff = 11
        p.add_layout(xax, "below")
    p.add_layout(Span(location=0, dimension="width", line_color="black",
                      line_width=1.4, line_dash="4 4", level="underlay"))
    for vals, col in zip(series, COLORS):
        xs = DISPERSION[:len(vals)]
        ys = [v / 1000.0 for v in vals[:len(xs)]]
        p.line(xs, ys, line_color=col, line_width=3.0 if col == "#9E0142" else 2.2,
               line_join="round")
    return p


def strip_fig(label, bottom_border):
    s = figure(frame_width=STRIP_W, frame_height=FRAME_H,
               min_border_left=0, min_border_right=0, min_border_top=PAD,
               min_border_bottom=bottom_border,
               x_range=Range1d(0, 1), y_range=Range1d(0, 1),
               x_axis_location=None, y_axis_location=None,
               toolbar_location=None, output_backend="svg",
               background_fill_color="#DEDEDE", border_fill_color="white",
               outline_line_color=None)
    hide_default_grids(s)
    s.text(x=[0.5], y=[0.5], text=[label], angle=-math.pi / 2,
           text_align="center", text_baseline="middle",
           text_font=value(FONT), text_font_size=value("19px"), text_color="#1A1A1A")
    return s


def title_fig(title):
    w = FRAME_W + LEFT_W + STRIP_W
    t = figure(width=w, height=TITLE_H, x_range=Range1d(0, w), y_range=Range1d(0, TITLE_H),
               min_border=0, x_axis_location=None, y_axis_location=None,
               toolbar_location=None, output_backend="svg",
               outline_line_color=None, background_fill_color="white",
               border_fill_color="white")
    hide_default_grids(t)
    t.text(x=[LEFT_W], y=[TITLE_H - 18], text=[title], text_align="left",
           text_baseline="alphabetic",
           text_font=value(FONT), text_font_size=value("22.4px"), text_color="#000000")
    return t


items = []
for g, (title, panels) in enumerate(GROUPS):
    items.append(title_fig(title))
    for k, series in enumerate(panels):
        last_row = (k == 2)
        if not last_row:
            bb = PAD
        elif g < 2:
            bb = BOTTOM_AXIS
        else:
            bb = BOTTOM_LAST
        xl = "Dispersion index" if (last_row and g == 2) else None
        pf = panel_fig(series, bb, last_row, xl)
        sf = strip_fig(SAMPLE_SIZES[k], bb)
        items.append(row(pf, sf, spacing=0))

right = column(*items, spacing=0)

ylab = figure(width=YLAB_W, height=TOTAL_H, x_range=Range1d(0, YLAB_W),
              y_range=Range1d(0, TOTAL_H), min_border=0,
              x_axis_location=None, y_axis_location=None,
              toolbar_location=None, output_backend="svg",
              outline_line_color=None, background_fill_color="white",
              border_fill_color="white")
hide_default_grids(ylab)
ylab.text(x=[20], y=[TOTAL_H - 780],
          text=["Difference between estimated and true population density (individuals/cell)"],
          angle=math.pi / 2, text_align="center", text_baseline="middle",
          text_font=value(FONT), text_font_size=value("22.5px"), text_color="#000000")

layout = row(ylab, right, spacing=0)

with open("out.html", "w", encoding="utf-8") as f:
    f.write(file_html(layout, INLINE))
